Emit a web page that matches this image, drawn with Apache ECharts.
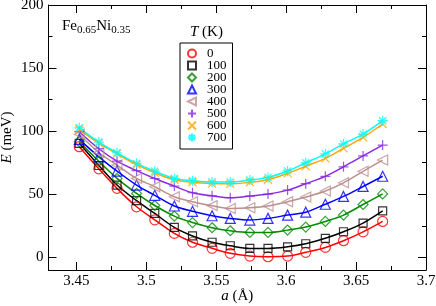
<!DOCTYPE html>
<html><head><meta charset="utf-8">
<script src="https://cdn.jsdelivr.net/npm/echarts@6/dist/echarts.min.js"></script>
<style>html,body{margin:0;padding:0;background:#fff}#c{width:436px;height:306px}</style>
</head><body><div id="c"></div>
<script>
// lattice constant a (Å)
const latticeA = [3.452, 3.466, 3.479, 3.493, 3.506, 3.520, 3.533, 3.547, 3.560, 3.574, 3.587, 3.601, 3.614, 3.628, 3.641, 3.655, 3.669];
// E (meV) for each temperature
const E_T0   = [87.7, 70.2, 54.7, 40.1, 29.8, 19.0, 12.0, 7.2, 3.2, 1.0, 0.5, 1.0, 4.0, 7.9, 13.2, 20.2, 28.5];
const E_T100 = [90.4, 72.8, 57.3, 44.9, 34.8, 23.8, 17.0, 12.0, 9.2, 7.1, 7.1, 8.4, 10.8, 15.1, 20.3, 27.2, 36.8];
const E_T200 = [91.6, 76.2, 62.6, 50.7, 41.1, 32.7, 27.6, 23.5, 21.1, 19.8, 19.8, 21.6, 24.0, 28.5, 33.5, 41.9, 50.3];
const E_T300 = [93.5, 79.7, 68.4, 57.3, 49.2, 40.7, 36.5, 33.0, 30.9, 29.6, 30.9, 33.5, 35.8, 42.1, 48.3, 56.2, 64.3];
const E_T400 = [97.5, 83.0, 73.2, 62.6, 56.0, 48.0, 44.1, 41.0, 38.8, 39.3, 40.7, 44.1, 47.8, 52.6, 59.1, 68.2, 77.1];
const E_T500 = [99.6, 86.1, 76.3, 68.7, 62.5, 56.5, 51.2, 48.8, 47.3, 48.6, 50.2, 53.3, 58.4, 64.2, 71.8, 80.4, 89.0];
const E_T600 = [101.5, 90.5, 82.0, 73.5, 67.0, 61.5, 59.5, 58.5, 58.3, 59.5, 61.5, 66.6, 72.2, 78.5, 86.4, 95.1, 105.7];
const E_T700 = [102.7, 91.4, 82.9, 74.5, 68.3, 62.5, 60.8, 59.8, 59.8, 61.3, 63.4, 68.5, 75.0, 82.0, 90.0, 97.7, 108.3];
const tempLabels = ['0', '100', '200', '300', '400', '500', '600', '700'];
const xTickVals = [3.45, 3.5, 3.55, 3.6, 3.65, 3.7];
const xMinorVals = [3.475, 3.525, 3.575, 3.625, 3.675];
const yTickVals = [0, 50, 100, 150, 200];
const yMinorVals = [25, 75, 125, 175];

const allE = [E_T0, E_T100, E_T200, E_T300, E_T400, E_T500, E_T600, E_T700];
const colors = ['#ff0000', '#000000', '#008b00', '#0000ff', '#bc8f8f', '#8a2be2', '#ffa500', '#00ffff'];
const symbols = ['circle', 'rect', 'diamond', 'triangle',
  'path://M0,5 L10,0 L10,10 Z',
  'path://M5,0 L5,10 M0,5 L10,5',
  'path://M0,0 L10,10 M10,0 L0,10',
  'path://M5,0 L5,10 M0,5 L10,5 M1.5,1.5 L8.5,8.5 M8.5,1.5 L1.5,8.5'];
const symSizes = [10, 8, 10, 10, 10, 10, 8, 10];

const FONT = 'Liberation Serif';
const chart = echarts.init(document.getElementById('c'));

function xAx(pos, vals, len, showLine, showLabel, extra) {
  return Object.assign({
    type: 'value', min: 3.43, max: 3.7, position: pos,
    axisLine: { show: showLine, onZero: false, lineStyle: { color: '#000', width: 1 } },
    axisTick: { show: true, inside: true, length: len, customValues: vals, lineStyle: { color: '#000', width: 1 } },
    axisLabel: { show: showLabel, customValues: vals, color: '#000', fontFamily: FONT, fontSize: 15, margin: 4 },
    splitLine: { show: false }
  }, extra || {});
}
function yAx(pos, vals, len, showLine, showLabel, extra) {
  return Object.assign({
    type: 'value', min: -10, max: 200, position: pos,
    axisLine: { show: showLine, onZero: false, lineStyle: { color: '#000', width: 1 } },
    axisTick: { show: true, inside: true, length: len, customValues: vals, lineStyle: { color: '#000', width: 1 } },
    axisLabel: { show: showLabel, customValues: vals, color: '#000', fontFamily: FONT, fontSize: 15, margin: 5 },
    splitLine: { show: false }
  }, extra || {});
}

const series = [];
allE.forEach((arr, i) => {
  const pts = latticeA.map((a, j) => [a, arr[j]]);
  series.push({
    type: 'line', name: 'fit' + i, data: pts, smooth: 0.35, showSymbol: false, silent: true,
    lineStyle: { color: colors[i], width: 1.5 }, itemStyle: { color: colors[i] }, z: 2
  });
});
allE.forEach((arr, i) => {
  const pts = latticeA.map((a, j) => [a, arr[j]]);
  series.push({
    type: 'scatter', name: tempLabels[i], data: pts, symbol: symbols[i], symbolSize: symSizes[i],
    itemStyle: { color: 'transparent', borderColor: colors[i], borderWidth: 1.2 }, z: 3
  });
});

chart.setOption({
  animation: false,
  textStyle: { fontFamily: FONT },
  grid: { left: 48.5, right: 10, top: 5, bottom: 36, containLabel: false, outerBoundsMode: 'none' },
  title: [
    { text: 'Fe{s|0.65}Ni{s|0.35}', left: 62, top: 17, padding: 0,
      textStyle: { fontFamily: FONT, fontSize: 15, fontWeight: 'normal', color: '#000',
        rich: { s: { fontFamily: FONT, fontSize: 11, color: '#000', verticalAlign: 'bottom', padding: [8, 0, 0, 0] } } } },
    { text: '{i|T} (K)', left: 190, top: 25, padding: 0,
      textStyle: { fontFamily: FONT, fontSize: 15, fontWeight: 'normal', color: '#000',
        rich: { i: { fontFamily: FONT, fontSize: 15, fontStyle: 'italic', color: '#000' } } } }
  ],
  legend: {
    data: tempLabels, orient: 'vertical', left: 180, top: 43,
    backgroundColor: '#fff', borderColor: '#000', borderWidth: 1, borderRadius: 0,
    padding: [4, 6, 5, 7], itemWidth: 8, itemHeight: 8, itemGap: -1,
    textStyle: { fontFamily: FONT, fontSize: 13, color: '#000', lineHeight: 10, padding: [0, 0, 0, 6] },
    selectedMode: false
  },
  xAxis: [
    xAx('bottom', xTickVals, 8, true, true, {
      name: '{i|a} (Å)', nameLocation: 'middle', nameGap: 19, nameMoveOverlap: false,
      nameTextStyle: { fontFamily: FONT, fontSize: 15, color: '#000', rich: { i: { fontFamily: FONT, fontSize: 15, fontStyle: 'italic', color: '#000' } } }
    }),
    xAx('bottom', xMinorVals, 4, false, false),
    xAx('top', xTickVals, 8, true, false),
    xAx('top', xMinorVals, 4, false, false)
  ],
  yAxis: [
    yAx('left', yTickVals, 8, true, true, {
      name: '{i|E} (meV)', nameLocation: 'middle', nameGap: 34, nameRotate: 90, nameMoveOverlap: false,
      nameTextStyle: { fontFamily: FONT, fontSize: 15, color: '#000', rich: { i: { fontFamily: FONT, fontSize: 15, fontStyle: 'italic', color: '#000' } } }
    }),
    yAx('left', yMinorVals, 4, false, false),
    yAx('right', yTickVals, 8, true, false),
    yAx('right', yMinorVals, 4, false, false)
  ],
  series: series
});
</script>
</body></html>
